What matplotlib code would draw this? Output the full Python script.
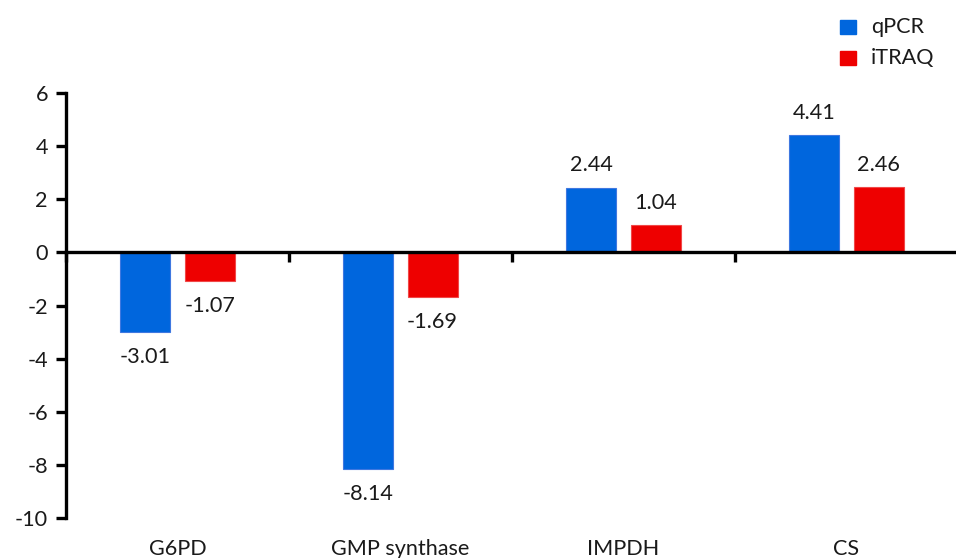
import matplotlib
matplotlib.use("Agg")
import matplotlib.pyplot as plt
import matplotlib.transforms as mtransforms
import numpy as np

plt.rcParams['font.family'] = ['Lato', 'DejaVu Sans']

categories = ["G6PD", "GMP synthase", "IMPDH", "CS"]
qpcr = [-3.01, -8.14, 2.44, 4.41]
itraq = [-1.07, -1.69, 1.04, 2.46]
series_names = ["qPCR", "iTRAQ"]
yticks = [-10, -8, -6, -4, -2, 0, 2, 4, 6]

blue = "#0066dd"
red = "#ee0000"
fs = 15.6

fig = plt.figure(figsize=(9.56, 5.58), dpi=100)
ax = fig.add_axes([66 / 956, 40 / 558, 892 / 956, 425 / 558])

x = np.arange(len(categories))
w = 0.225
off = 0.144
b1 = ax.bar(x - off, qpcr, w, color=blue, edgecolor="#3f78e0", linewidth=0.8, zorder=2)
b2 = ax.bar(x + off, itraq, w, color=red, edgecolor="#f04848", linewidth=0.8, zorder=2)

ax.set_xlim(-0.5, len(categories) - 0.5)
ax.set_ylim(-10, 6)

for bars, vals in ((b1, qpcr), (b2, itraq)):
    for rect, v in zip(bars, vals):
        cx = rect.get_x() + rect.get_width() / 2
        dy = 16 if v > 0 else -18
        ax.annotate(f"{v:.2f}", (cx, v), xytext=(0, dy), textcoords="offset points",
                    ha="center", va="center", fontsize=fs, color="#1a1a1a")

# spines: y axis on the left, x axis along zero
for s in ("top", "right"):
    ax.spines[s].set_visible(False)
ax.spines["bottom"].set_position(("data", 0))
ax.spines["bottom"].set_linewidth(2.4)
ax.spines["left"].set_linewidth(2.4)
ax.spines["bottom"].set_zorder(3)

ax.set_yticks(yticks)
ax.set_yticklabels([str(t) for t in yticks], fontsize=fs, color="#1a1a1a")
ax.tick_params(axis="y", direction="out", length=7, width=2.4, pad=6)

ax.set_xticks(np.arange(-0.5, len(categories)))
ax.set_xticklabels([])
ax.tick_params(axis="x", direction="out", length=7, width=2.4)

trans = mtransforms.blended_transform_factory(ax.transData, fig.transFigure)
for xi, name in zip(x, categories):
    ax.text(xi, 9 / 558, name, transform=trans, ha="center", va="center",
            fontsize=fs, color="#1a1a1a", clip_on=False)

# legend
for i, (name, col) in enumerate(zip(series_names, (blue, red))):
    yc = 1 - (27 + 31 * i) / 558
    fig.patches.append(plt.Rectangle((840 / 956, yc - 7 / 558), 16 / 956, 14 / 558,
                                     transform=fig.transFigure, color=col, figure=fig))
    fig.text(871 / 956, yc, name, ha="left", va="center", fontsize=fs, color="#1a1a1a")

fig.savefig("out.png", dpi=100)
